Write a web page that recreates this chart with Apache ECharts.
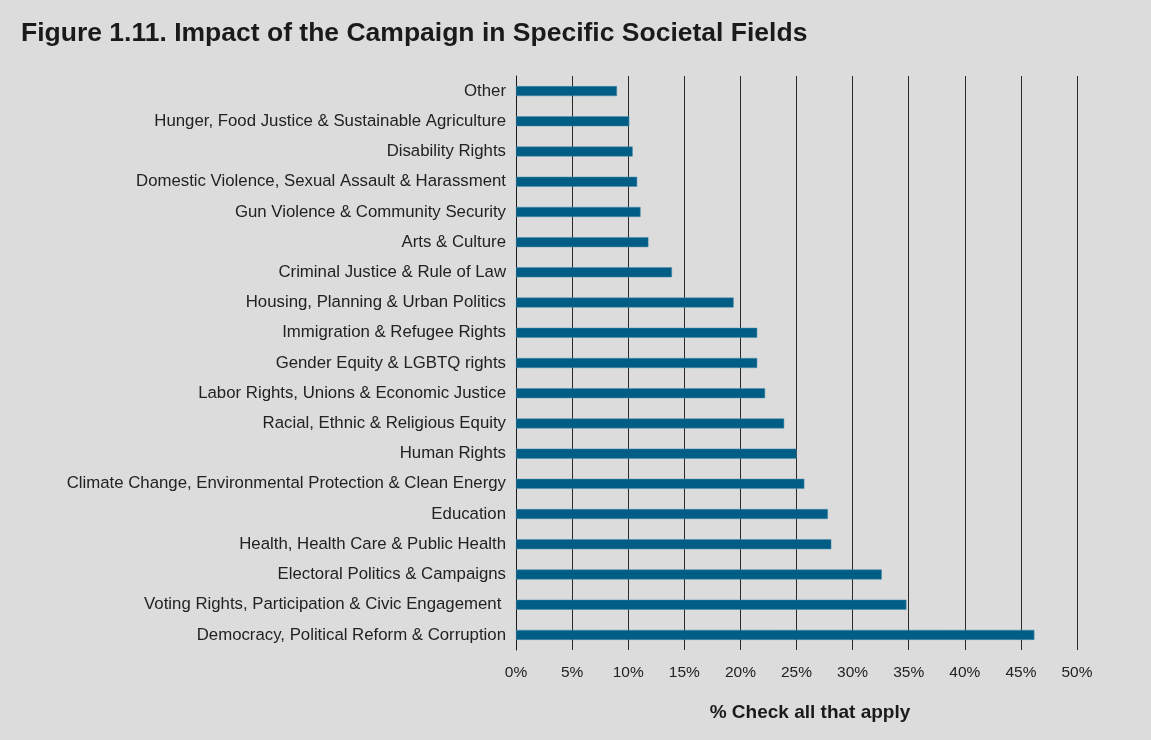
<!DOCTYPE html>
<html>
<head>
<meta charset="utf-8">
<style>
  html, body { margin: 0; padding: 0; background: #dcdcdc; }
  #chart { width: 1151px; height: 740px; }
</style>
<script src="https://cdn.jsdelivr.net/npm/echarts@6/dist/echarts.min.js"></script>
</head>
<body>
<div id="chart"></div>
<script>
// Societal fields, listed bottom-to-top as they appear on the category axis
const categories = [
  'Democracy, Political Reform & Corruption',
  'Voting Rights, Participation & Civic Engagement ',
  'Electoral Politics & Campaigns',
  'Health, Health Care & Public Health',
  'Education',
  'Climate Change, Environmental Protection & Clean Energy',
  'Human Rights',
  'Racial, Ethnic & Religious Equity',
  'Labor Rights, Unions & Economic Justice',
  'Gender Equity & LGBTQ rights',
  'Immigration & Refugee Rights',
  'Housing, Planning & Urban Politics',
  'Criminal Justice & Rule of Law',
  'Arts & Culture',
  'Gun Violence & Community Security',
  'Domestic Violence, Sexual Assault & Harassment',
  'Disability Rights',
  'Hunger, Food Justice & Sustainable Agriculture',
  'Other'
];

// Share of respondents (%) checking each field
const shares = [46.2, 34.8, 32.6, 28.1, 27.8, 25.7, 25.0, 23.9, 22.2, 21.5, 21.5, 19.4, 13.9, 11.8, 11.1, 10.8, 10.4, 10.1, 9.0];

// Percentage axis
const axisMin = 0;
const axisMax = 50;
const axisStep = 5;

const titleText = 'Figure 1.11. Impact of the Campaign in Specific Societal Fields';
const axisTitle = '% Check all that apply';

const font = 'Liberation Sans';

const chart = echarts.init(document.getElementById('chart'), null, { renderer: 'canvas' });

chart.setOption({
  backgroundColor: '#dcdcdc',
  animation: false,
  textStyle: { fontFamily: font },
  title: {
    text: titleText,
    left: 16,
    top: 15,
    textStyle: { fontFamily: font, fontSize: 26.5, fontWeight: 'bold', color: '#1a1a1a' }
  },
  grid: { left: 516, right: 74, top: 76, bottom: 90, containLabel: false },
  xAxis: {
    type: 'value',
    min: axisMin,
    max: axisMax,
    interval: axisStep,
    axisLine: { show: false },
    axisTick: { show: false },
    splitLine: { show: true, lineStyle: { color: '#2a2a2a', width: 1 } },
    axisLabel: {
      formatter: v => v + '%',
      fontFamily: font,
      fontSize: 15.5,
      color: '#222',
      margin: 15
    },
    name: axisTitle,
    nameLocation: 'middle',
    nameGap: 53,
    nameTextStyle: {
      fontFamily: font,
      fontSize: 19,
      fontWeight: 'bold',
      color: '#1a1a1a',
      padding: [0, 0, 0, 27]
    }
  },
  yAxis: {
    type: 'category',
    data: categories,
    axisLine: { show: true, lineStyle: { color: '#1a1a1a', width: 1 } },
    axisTick: { show: false },
    splitLine: { show: false },
    axisLabel: {
      fontFamily: font,
      fontSize: 16.8,
      color: '#222',
      margin: 10
    }
  },
  series: [{
    type: 'bar',
    data: shares,
    barWidth: 10,
    itemStyle: { color: '#005d85', borderColor: '#4d8fae', borderWidth: 0.5 },
    z: 3
  }]
});
</script>
</body>
</html>
